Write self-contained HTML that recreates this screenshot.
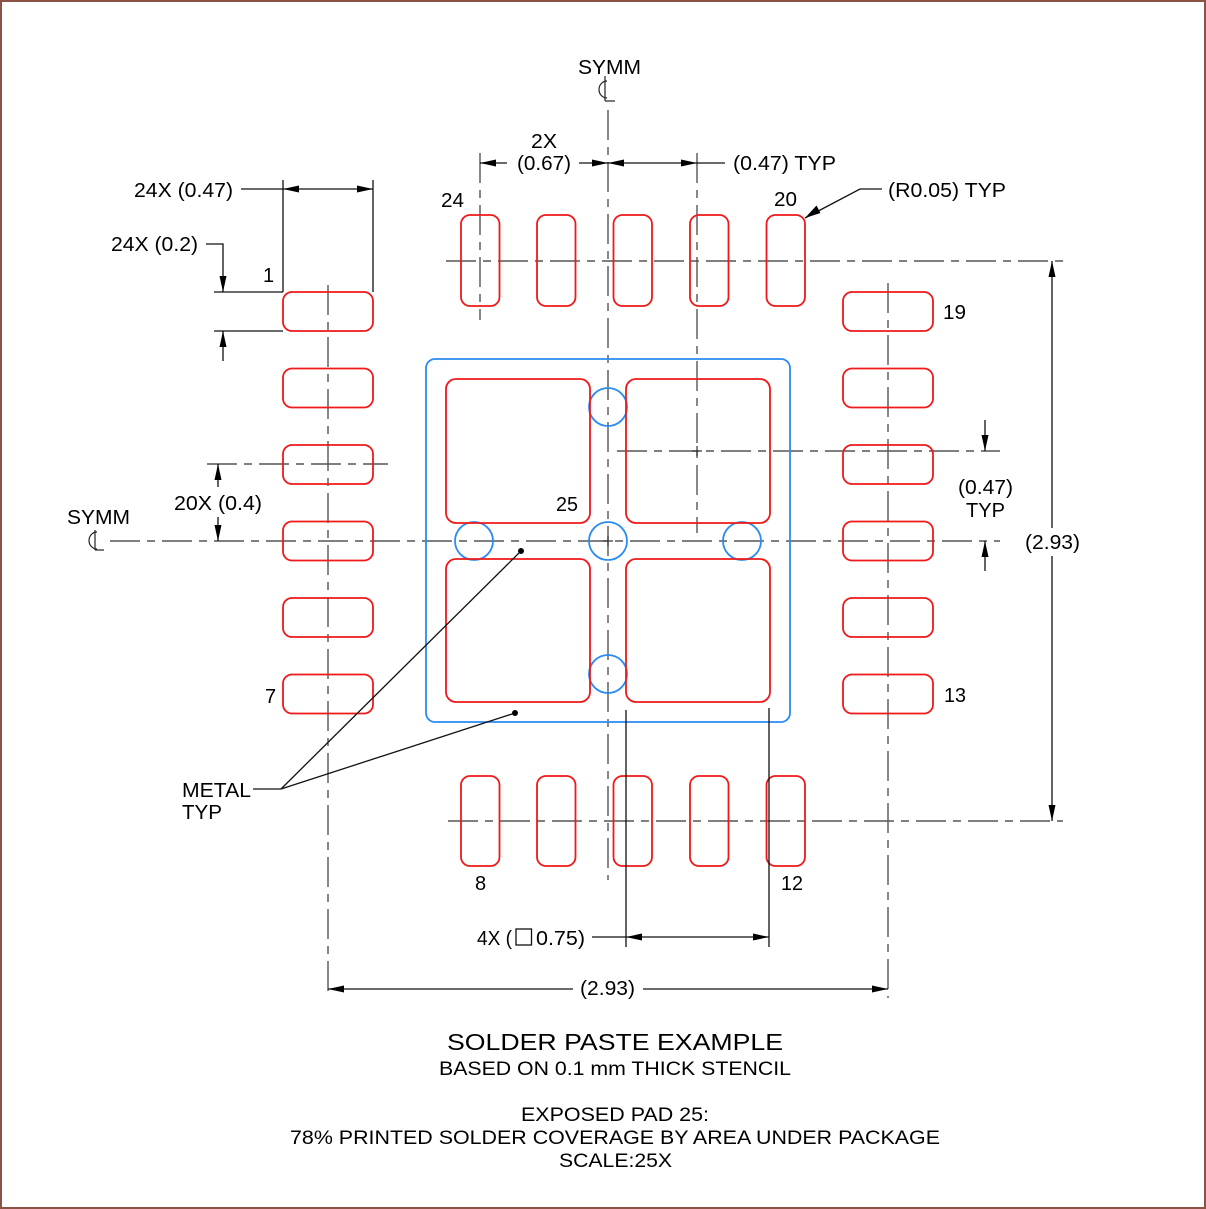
<!DOCTYPE html>
<html>
<head>
<meta charset="utf-8">
<style>
html,body{margin:0;padding:0;background:#fff;}
svg{display:block;}
text{font-family:"Liberation Sans",Arial,sans-serif;fill:#000;}
</style>
</head>
<body>
<svg width="1206" height="1209" viewBox="0 0 1206 1209" xmlns="http://www.w3.org/2000/svg">
<rect x="0" y="0" width="1206" height="1209" fill="#fff"/>
<rect x="1" y="1" width="1204" height="1207" fill="none" stroke="#8c5245" stroke-width="2"/>

<!-- center lines -->
<g stroke="#555" stroke-width="1.4" fill="none" stroke-dasharray="30 7 8 7">
  <line x1="608" y1="110" x2="608" y2="880"/>
  <line x1="110" y1="541" x2="1000" y2="541"/>
  <line x1="446" y1="261" x2="1063" y2="261"/>
  <line x1="448" y1="821" x2="1063" y2="821"/>
  <line x1="328" y1="285" x2="328" y2="998"/>
  <line x1="888" y1="283" x2="888" y2="998"/>
  <line x1="480" y1="153" x2="480" y2="320"/>
  <line x1="697" y1="153" x2="697" y2="533"/>
  <line x1="617" y1="451" x2="1000" y2="451"/>
  <line x1="207" y1="464" x2="388" y2="464"/>
</g>

<!-- blue outline and circles -->
<g stroke="#2a8cf0" stroke-width="1.8" fill="none">
  <rect x="426" y="359" width="364" height="363" rx="9"/>
  <circle cx="608" cy="407" r="19"/>
  <circle cx="608" cy="541" r="19"/>
  <circle cx="608" cy="674" r="19"/>
  <circle cx="474" cy="541" r="19"/>
  <circle cx="742" cy="541" r="19"/>
</g>

<!-- red pads -->
<g stroke="#f01818" stroke-width="1.8" fill="none">
  <rect x="446" y="379" width="144" height="144" rx="10"/>
  <rect x="626" y="379" width="144" height="144" rx="10"/>
  <rect x="446" y="559" width="144" height="143" rx="10"/>
  <rect x="626" y="559" width="144" height="143" rx="10"/>
  <!-- left -->
  <rect x="283" y="292" width="90" height="39" rx="9"/>
  <rect x="283" y="368.5" width="90" height="39" rx="9"/>
  <rect x="283" y="445" width="90" height="39" rx="9"/>
  <rect x="283" y="521.5" width="90" height="39" rx="9"/>
  <rect x="283" y="598" width="90" height="39" rx="9"/>
  <rect x="283" y="674.5" width="90" height="39" rx="9"/>
  <!-- right -->
  <rect x="843" y="292" width="90" height="39" rx="9"/>
  <rect x="843" y="368.5" width="90" height="39" rx="9"/>
  <rect x="843" y="445" width="90" height="39" rx="9"/>
  <rect x="843" y="521.5" width="90" height="39" rx="9"/>
  <rect x="843" y="598" width="90" height="39" rx="9"/>
  <rect x="843" y="674.5" width="90" height="39" rx="9"/>
  <!-- top -->
  <rect x="461" y="215" width="38.5" height="91" rx="9"/>
  <rect x="537" y="215" width="38.5" height="91" rx="9"/>
  <rect x="613.5" y="215" width="38.5" height="91" rx="9"/>
  <rect x="690" y="215" width="38.5" height="91" rx="9"/>
  <rect x="766.5" y="215" width="38.5" height="91" rx="9"/>
  <!-- bottom -->
  <rect x="461" y="776" width="38.5" height="90" rx="9"/>
  <rect x="537" y="776" width="38.5" height="90" rx="9"/>
  <rect x="613.5" y="776" width="38.5" height="90" rx="9"/>
  <rect x="690" y="776" width="38.5" height="90" rx="9"/>
  <rect x="766.5" y="776" width="38.5" height="90" rx="9"/>
</g>

<!-- small crosses -->
<g stroke="#333" stroke-width="1.2">
  <line x1="603" y1="541" x2="613" y2="541"/><line x1="608" y1="536" x2="608" y2="546"/>
  <line x1="692" y1="451" x2="702" y2="451"/><line x1="697" y1="446" x2="697" y2="456"/>
</g>

<!-- dimension lines (solid black) -->
<g stroke="#111" stroke-width="1.3" fill="none">
  <line x1="241" y1="189" x2="373" y2="189"/>
  <line x1="283" y1="180" x2="283" y2="292"/>
  <line x1="373" y1="180" x2="373" y2="292"/>
  <polyline points="206,244 223,244 223,292"/>
  <line x1="214" y1="292" x2="283" y2="292"/>
  <line x1="214" y1="331" x2="283" y2="331"/>
  <line x1="223" y1="331" x2="223" y2="361"/>
  <line x1="218" y1="464" x2="218" y2="487"/>
  <line x1="218" y1="517" x2="218" y2="541"/>
  <line x1="480" y1="163" x2="507" y2="163"/>
  <line x1="579" y1="163" x2="725" y2="163"/>
  <polyline points="882,189 860,189 805,218"/>
  <line x1="985" y1="420" x2="985" y2="451"/>
  <line x1="985" y1="541" x2="985" y2="571"/>
  <line x1="1052" y1="261" x2="1052" y2="528"/>
  <line x1="1052" y1="556" x2="1052" y2="821"/>
  <line x1="626" y1="710" x2="626" y2="947"/>
  <line x1="769" y1="708" x2="769" y2="947"/>
  <line x1="592" y1="937" x2="769" y2="937"/>
  <line x1="328" y1="989" x2="573" y2="989"/>
  <line x1="643" y1="989" x2="888" y2="989"/>
  <line x1="253" y1="789" x2="281" y2="789"/>
  <line x1="281" y1="789" x2="521" y2="551"/>
  <line x1="281" y1="789" x2="515" y2="713"/>
</g>
<circle cx="521" cy="551" r="3" fill="#000"/>
<circle cx="515" cy="713" r="3" fill="#000"/>

<!-- arrowheads -->
<g fill="#000">
  <polygon points="283,189 299,185.5 299,192.5"/>
  <polygon points="373,189 357,185.5 357,192.5"/>
  <polygon points="223,292 219.5,276 226.5,276"/>
  <polygon points="223,331 219.5,347 226.5,347"/>
  <polygon points="218,464 214.5,480 221.5,480"/>
  <polygon points="218,541 214.5,525 221.5,525"/>
  <polygon points="480,163 496,159.5 496,166.5"/>
  <polygon points="608,163 592,159.5 592,166.5"/>
  <polygon points="608,163 624,159.5 624,166.5"/>
  <polygon points="697,163 681,159.5 681,166.5"/>
  <polygon points="805,218 816.5,205.5 820.5,213"/>
  <polygon points="985,451 981.5,435 988.5,435"/>
  <polygon points="985,541 981.5,557 988.5,557"/>
  <polygon points="1052,261 1048.5,277 1055.5,277"/>
  <polygon points="1052,821 1048.5,805 1055.5,805"/>
  <polygon points="626,937 642,933.5 642,940.5"/>
  <polygon points="769,937 753,933.5 753,940.5"/>
  <polygon points="328,989 344,985.5 344,992.5"/>
  <polygon points="888,989 872,985.5 872,992.5"/>
</g>

<!-- centerline symbols -->
<g stroke="#222" stroke-width="1.2" fill="none">
  <path d="M607,81 A8,8.5 0 0 0 607,98"/>
  <line x1="605" y1="76" x2="605" y2="101"/>
  <line x1="605" y1="101" x2="615" y2="101"/>
  <path d="M97,532 A8,8.5 0 0 0 97,549"/>
  <line x1="95" y1="530" x2="95" y2="550"/>
  <line x1="95" y1="550" x2="104" y2="550"/>
</g>
<rect x="516" y="929" width="15.5" height="16" fill="none" stroke="#111" stroke-width="1.3"/>

<!-- labels -->
<g font-size="20">
  <text x="134" y="197" textLength="99" lengthAdjust="spacingAndGlyphs">24X (0.47)</text>
  <text x="111" y="251" textLength="87" lengthAdjust="spacingAndGlyphs">24X (0.2)</text>
  <text x="263" y="282">1</text>
  <text x="578" y="74" textLength="63" lengthAdjust="spacingAndGlyphs">SYMM</text>
  <text x="531" y="148" textLength="26" lengthAdjust="spacingAndGlyphs">2X</text>
  <text x="517" y="170" textLength="54" lengthAdjust="spacingAndGlyphs">(0.67)</text>
  <text x="733" y="170" textLength="103" lengthAdjust="spacingAndGlyphs">(0.47) TYP</text>
  <text x="441" y="207" textLength="23" lengthAdjust="spacingAndGlyphs">24</text>
  <text x="774" y="206" textLength="23" lengthAdjust="spacingAndGlyphs">20</text>
  <text x="888" y="197" textLength="118" lengthAdjust="spacingAndGlyphs">(R0.05) TYP</text>
  <text x="943" y="319" textLength="23" lengthAdjust="spacingAndGlyphs">19</text>
  <text x="958" y="494" textLength="55" lengthAdjust="spacingAndGlyphs">(0.47)</text>
  <text x="966" y="517" textLength="39" lengthAdjust="spacingAndGlyphs">TYP</text>
  <text x="1025" y="549" textLength="55" lengthAdjust="spacingAndGlyphs">(2.93)</text>
  <text x="944" y="702" textLength="22" lengthAdjust="spacingAndGlyphs">13</text>
  <text x="265" y="703">7</text>
  <text x="174" y="510" textLength="88" lengthAdjust="spacingAndGlyphs">20X (0.4)</text>
  <text x="67" y="524" textLength="63" lengthAdjust="spacingAndGlyphs">SYMM</text>
  <text x="556" y="511" textLength="22" lengthAdjust="spacingAndGlyphs">25</text>
  <text x="475" y="890">8</text>
  <text x="781" y="890" textLength="22" lengthAdjust="spacingAndGlyphs">12</text>
  <text x="477" y="945" textLength="35" lengthAdjust="spacingAndGlyphs">4X (</text>
  <text x="536" y="945" textLength="49" lengthAdjust="spacingAndGlyphs">0.75)</text>
  <text x="580" y="995" textLength="55" lengthAdjust="spacingAndGlyphs">(2.93)</text>
  <text x="182" y="797" textLength="69" lengthAdjust="spacingAndGlyphs">METAL</text>
  <text x="182" y="819" textLength="40" lengthAdjust="spacingAndGlyphs">TYP</text>
</g>

<!-- bottom notes -->
<text x="447" y="1050" font-size="23.5" textLength="336" lengthAdjust="spacingAndGlyphs">SOLDER PASTE EXAMPLE</text>
<text x="439" y="1075" font-size="19.5" textLength="352" lengthAdjust="spacingAndGlyphs">BASED ON 0.1 mm THICK STENCIL</text>
<text x="521" y="1121" font-size="19.5" textLength="188" lengthAdjust="spacingAndGlyphs">EXPOSED PAD 25:</text>
<text x="290" y="1144" font-size="19.5" textLength="650" lengthAdjust="spacingAndGlyphs">78% PRINTED SOLDER COVERAGE BY AREA UNDER PACKAGE</text>
<text x="559" y="1167" font-size="19.5" textLength="113" lengthAdjust="spacingAndGlyphs">SCALE:25X</text>
</svg>
</body>
</html>
